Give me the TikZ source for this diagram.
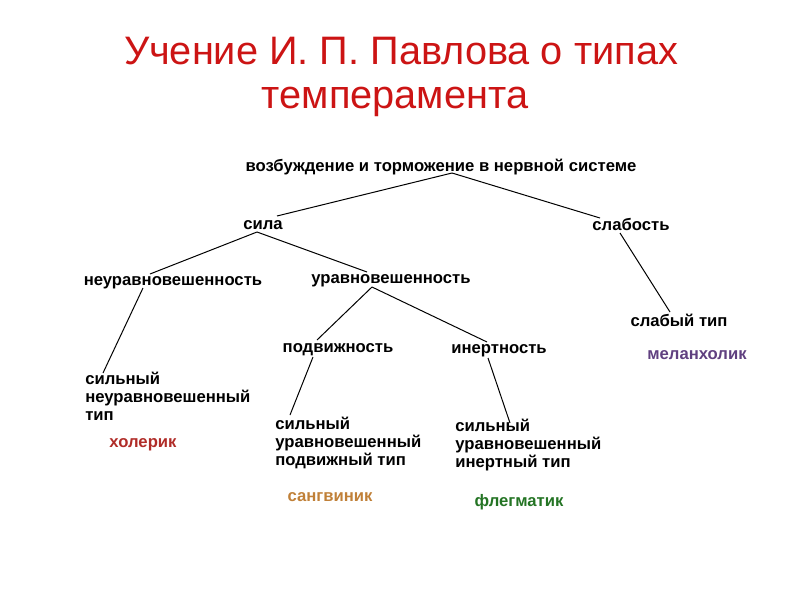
\documentclass[tikz,border=0pt]{standalone}
\usepackage{fontspec}
\setmainfont{Liberation Sans}
\usetikzlibrary{calc}

\definecolor{titlered}{RGB}{204,20,20}
\definecolor{cholred}{RGB}{176,44,40}
\definecolor{sangbrown}{RGB}{192,128,56}
\definecolor{fleggreen}{RGB}{36,116,36}
\definecolor{melpurple}{RGB}{96,64,128}

\tikzset{
  lbl/.style={font=\bfseries\fontsize{12.5}{13.5}\selectfont, inner sep=0pt, anchor=base},
  tip/.style={lbl, align=left, anchor=north west},
  head/.style={anchor=base, inner sep=0pt, text=titlered, font=\fontsize{29.8}{32}\selectfont},
  link/.style={line width=0.75pt}
}

\begin{document}
\begin{tikzpicture}[x=0.75pt, y=-0.75pt]
  \useasboundingbox (0,0) rectangle (800,600);
  % title
  \node [head] (title1) at (401,64) {Учение И. П. Павлова о типах};
  \node [head] (title2) at (395,108) {темперамента};
  % tree
  \node [lbl] (root) at (441,171) {возбуждение и торможение в нервной системе};
  \node [lbl] (sila) at (263,229) {сила};
  \node [lbl] (slab) at (631,230) {слабость};
  \node [lbl] (neur) at (173,285) {неуравновешенность};
  \node [lbl] (urav) at (391,283) {уравновешенность};
  \node [lbl] (podv) at (338,352) {подвижность};
  \node [lbl] (inert) at (499,353) {инертность};
  \node [lbl] (weak) at (679,326) {слабый тип};
  \node [tip] (t1) at (85,372) {сильный\\неуравновешенный\\тип};
  \node [tip] (t2) at (275,417) {сильный\\уравновешенный\\подвижный тип};
  \node [tip] (t3) at (455,419) {сильный\\уравновешенный\\инертный тип};
  % temperaments
  \node [lbl, text=cholred] (chol) at (143,447) {холерик};
  \node [lbl, text=sangbrown] (sang) at (330,501) {сангвиник};
  \node [lbl, text=fleggreen] (fleg) at (519,506) {флегматик};
  \node [lbl, text=melpurple] (mel) at (697,359) {меланхолик};
  % connectors
  \draw [link] ($(root.base)+(11,2)$) -- ($(sila.base)+(14,-13)$);
  \draw [link] ($(root.base)+(11,2)$) -- ($(slab.base)+(-31,-12)$);
  \draw [link] ($(sila.base)+(-6,3)$) -- ($(neur.base)+(-23,-11)$);
  \draw [link] ($(sila.base)+(-6,3)$) -- ($(urav.base)+(-24,-11)$);
  \draw [link] ($(urav.base)+(-19,4)$) -- ($(podv.base)+(-21,-12)$);
  \draw [link] ($(urav.base)+(-19,4)$) -- ($(inert.base)+(-12,-11)$);
  \draw [link] ($(neur.base)+(-30,3)$) -- ($(t1.north west)+(18,1)$);
  \draw [link] ($(podv.base)+(-25,5)$) -- ($(t2.north west)+(15,-2)$);
  \draw [link] ($(inert.base)+(-11,5)$) -- ($(t3.north west)+(55,4)$);
  \draw [link] ($(slab.base)+(-11,3)$) -- ($(weak.base)+(-9,-14)$);
\end{tikzpicture}
\end{document}
